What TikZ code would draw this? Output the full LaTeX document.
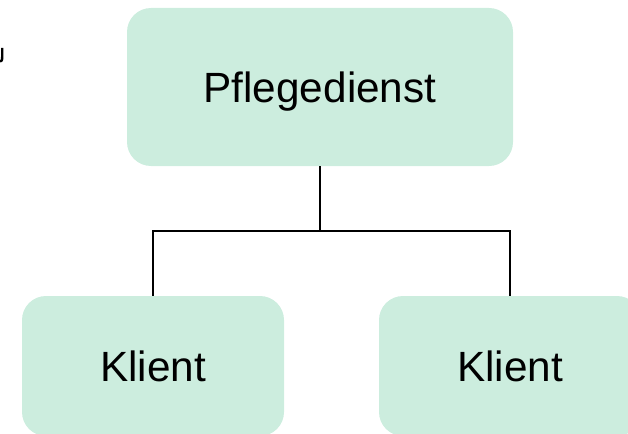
\documentclass[tikz,border=0pt]{standalone}
\usepackage{fontspec}
\setmainfont{Liberation Sans}
\definecolor{mint}{RGB}{204,237,222}
\tikzset{
  x=1pt, y=1pt,
  orgbox/.style={fill=mint, draw=none, rounded corners=24pt, inner sep=0pt,
    font=\fontsize{42.3pt}{50pt}\selectfont, text height=30.3pt, text depth=0pt},
  link/.style={draw=black, line width=1.4pt}
}
\begin{document}
\begin{tikzpicture}
\useasboundingbox (0,0) rectangle (628,-433);
\clip (0,0) rectangle (628,-433);

% stray glyph fragment at the left edge
\draw[line width=2.4pt] (2.2,-48) -- (2.2,-57) .. controls (2.2,-60.5) and (1.5,-61.5) .. (0,-61.5);

% boxes
\node[orgbox, minimum width=386pt, minimum height=158pt] (top) at (320,-87) {Pflegedienst};
\node[orgbox, minimum width=262pt, minimum height=140pt] (left) at (153,-366) {Klient};
\node[orgbox, minimum width=262pt, minimum height=140pt] (right) at (510,-366) {Klient};

% tree connectors
\coordinate (j) at (320,-231);
\draw[link] (top.south) -- (j);
\draw[link] (left.north) |- (j) -| (right.north);
\end{tikzpicture}
\end{document}
